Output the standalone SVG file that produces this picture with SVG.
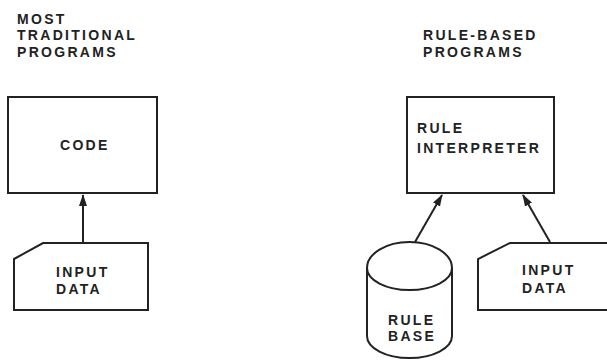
<svg xmlns="http://www.w3.org/2000/svg" width="607" height="360" viewBox="0 0 607 360">
<style>
.t{font-family:"Liberation Sans","DejaVu Sans",sans-serif;font-weight:bold;font-size:14px;letter-spacing:2.3px;fill:#222}
.s{fill:none;stroke:#222;stroke-width:2}
</style>
<defs>
<marker id="ah" markerUnits="userSpaceOnUse" markerWidth="12" markerHeight="8" refX="11" refY="4" orient="auto">
<path d="M0,0 L12,4 L0,8 Z" fill="#222"/>
</marker>
</defs>
<rect width="607" height="360" fill="#fff"/>
<g id="title-left">
<text class="t" x="17" y="24">MOST</text>
<text class="t" x="17" y="40">TRADITIONAL</text>
<text class="t" x="17" y="57">PROGRAMS</text>
</g>
<g id="title-right">
<text class="t" x="423" y="40">RULE-BASED</text>
<text class="t" x="423" y="57">PROGRAMS</text>
</g>
<g id="code">
<rect class="s" x="8" y="97" width="149" height="96"/>
<text class="t" x="60" y="150">CODE</text>
</g>
<g id="input-left">
<path class="s" d="M14,259 L43,243 L148,243 L148,310 L14,310 Z"/>
<text class="t" x="56" y="277">INPUT</text>
<text class="t" x="56" y="294">DATA</text>
</g>
<g id="interpreter">
<rect class="s" x="407" y="97" width="147" height="96"/>
<text class="t" x="417" y="133">RULE</text>
<text class="t" x="417" y="153">INTERPRETER</text>
</g>
<g id="rulebase">
<path class="s" d="M367,268 A42.5,26 0 0 1 452,268 A42.5,22 0 0 1 367,268 Z M367,268 L367,336 A42.5,22 0 0 0 452,336 L452,268"/>
<text class="t" x="388" y="325">RULE</text>
<text class="t" x="388" y="341">BASE</text>
</g>
<g id="input-right">
<path class="s" d="M612,243 L510,243 L478,259 L478,310 L612,310"/>
<text class="t" x="522" y="275">INPUT</text>
<text class="t" x="522" y="293">DATA</text>
</g>
<g id="connectors">
<line class="s" x1="83" y1="243" x2="83" y2="195" marker-end="url(#ah)"/>
<line class="s" x1="415" y1="242" x2="442" y2="195" marker-end="url(#ah)"/>
<line class="s" x1="550" y1="242" x2="523" y2="195" marker-end="url(#ah)"/>
</g>
</svg>
